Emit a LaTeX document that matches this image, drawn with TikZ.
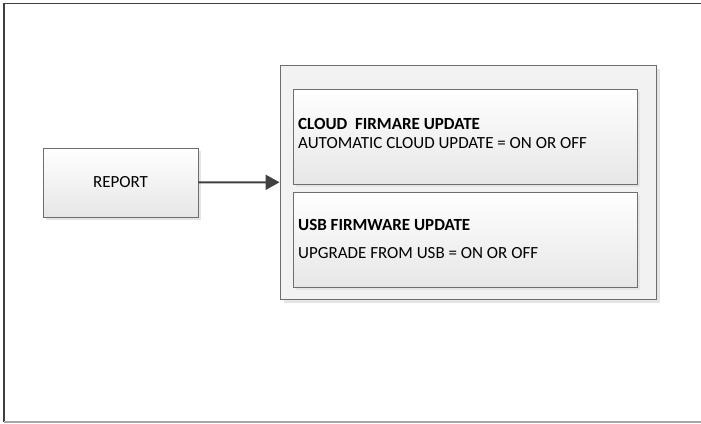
\documentclass[tikz,border=0pt]{standalone}
\usepackage{fontspec}
\setmainfont{Carlito}
\usetikzlibrary{arrows.meta,shadows}

\definecolor{edgegray}{HTML}{6E6E6E}
\definecolor{arrowgray}{HTML}{404040}
\definecolor{panelgray}{HTML}{F2F2F2}

\begin{document}
\begin{tikzpicture}[x=1bp, y=-1bp,
  every node/.style={font=\fontsize{17bp}{20bp}\selectfont},
  block/.style={draw=edgegray, line width=0.9bp, top color=white, bottom color=panelgray!90!gray,
    drop shadow={shadow xshift=3bp, shadow yshift=-3bp, fill=gray!20, opacity=1}},
  panel/.style={draw=edgegray, line width=0.9bp, fill=panelgray,
    drop shadow={shadow xshift=4bp, shadow yshift=-4bp, fill=gray!20, opacity=1}},
  entry/.style={anchor=west, inner sep=0pt}]
\useasboundingbox (0,0) rectangle (701,423);
% page frame
\draw[arrowgray, line width=1.3bp] (4,422) -- (4,3.5) -- (701,3.5);
\draw[gray!70, line width=1.3bp] (4,422) -- (701,422);
% boxes
\node[block, minimum width=155bp, minimum height=69bp] (report) at (120.5,182.5) {REPORT};
\node[panel, minimum width=376bp, minimum height=234bp] (settings) at (468,182) {};
\node[block, minimum width=344bp, minimum height=95bp] (cloud) at (465,136.5) {};
\node[block, minimum width=344bp, minimum height=95bp] (usb) at (465,239.5) {};
% texts
\node[entry] (cloudtitle) at (298,124) {\textbf{CLOUD\ \ FIRMARE UPDATE}};
\node[entry] (cloudtext) at (298,143) {AUTOMATIC CLOUD UPDATE = ON OR OFF};
\node[entry] (usbtitle) at (298,225) {\textbf{USB FIRMWARE UPDATE}};
\node[entry] (usbtext) at (298,253) {UPGRADE FROM USB = ON OR OFF};
\foreach \from/\to in {report/settings}
\draw [arrowgray, line width=2bp, -{Triangle[length=14bp,width=15bp]}] (\from) -- (\to);
\end{tikzpicture}
\end{document}
